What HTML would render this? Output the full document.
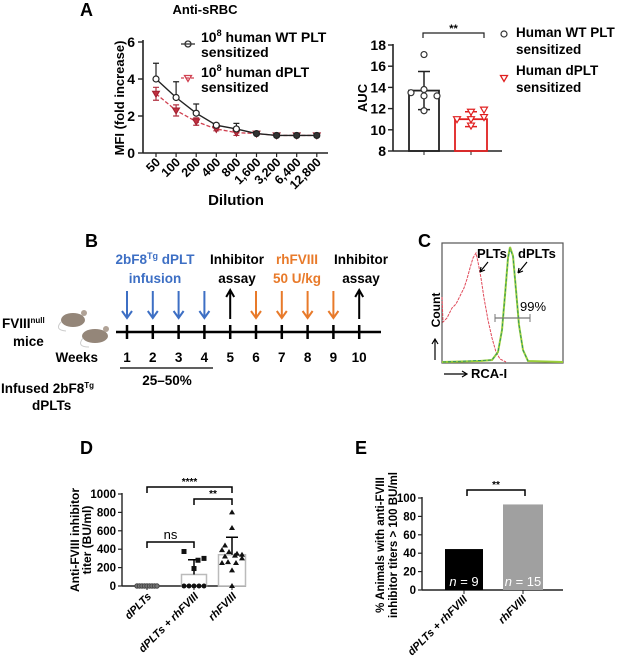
<!DOCTYPE html>
<html><head><meta charset="utf-8">
<style>
html,body{margin:0;padding:0;background:#fff;overflow:hidden;}
svg{display:block;font-family:"Liberation Sans",Arial,sans-serif;font-weight:bold;}
</style></head>
<body>
<svg id="fig" width="627" height="660" viewBox="0 0 627 660" xmlns="http://www.w3.org/2000/svg">
<!-- Panel A -->
<g id="panelA">
<text x="80" y="16" font-size="18">A</text>
<text x="205" y="14" font-size="13" text-anchor="middle">Anti-sRBC</text>
<text transform="translate(124,98) rotate(-90)" font-size="13" text-anchor="middle">MFI (fold increase)</text>
<text x="236" y="205" font-size="15" text-anchor="middle">Dilution</text>
<g>
<line x1="181" y1="44" x2="195" y2="44" stroke="#333" stroke-width="1.3"/>
<circle cx="188" cy="44" r="3" fill="none" stroke="#333" stroke-width="1.3"/>
<text x="201" y="42" font-size="14">10<tspan font-size="9" dy="-6">8</tspan><tspan dy="6"> human WT PLT</tspan></text>
<text x="201" y="57" font-size="14">sensitized</text>
<line x1="181" y1="78" x2="195" y2="78" stroke="#d04050" stroke-width="1.3" stroke-dasharray="3,2"/>
<path d="M184.5,75.5 L191.5,75.5 L188,81.5 Z" fill="none" stroke="#d04050" stroke-width="1.3"/>
<text x="201" y="77" font-size="14">10<tspan font-size="9" dy="-6">8</tspan><tspan dy="6"> human dPLT</tspan></text>
<text x="201" y="92" font-size="14">sensitized</text>
</g>
<g id="aAxes"></g><g id="aMarks"></g>
</g>
<!-- AUC -->
<g id="panelAUC">
<text transform="translate(367,98) rotate(-90)" font-size="13" text-anchor="middle">AUC</text>
<g id="aucAxes"></g><g id="aucMarks"></g>
<g>
<circle cx="504" cy="34" r="3" fill="none" stroke="#333" stroke-width="1.2"/>
<text x="516" y="37" font-size="13.5">Human WT PLT</text>
<text x="516" y="54" font-size="13.5">sensitized</text>
<path d="M500.5,75.5 L507.5,75.5 L504,81.5 Z" fill="none" stroke="#e02020" stroke-width="1.3"/>
<text x="516" y="75" font-size="13.5">Human dPLT</text>
<text x="516" y="92" font-size="13.5">sensitized</text>
</g>
</g>
<!-- Panel B -->
<g id="panelB">
<text x="85" y="247" font-size="18">B</text>
<g font-size="13.5" text-anchor="middle">
<text x="155" y="264" fill="#3d6fc4">2bF8<tspan font-size="9" dy="-5">Tg</tspan><tspan dy="5"> dPLT</tspan></text>
<text x="155" y="283" fill="#3d6fc4">infusion</text>
<text x="237" y="264">Inhibitor</text>
<text x="237" y="283">assay</text>
<text x="297" y="264" fill="#e87a2a">rhFVIII</text>
<text x="297" y="283" fill="#e87a2a">50 U/kg</text>
<text x="361" y="264">Inhibitor</text>
<text x="361" y="283">assay</text>
</g>
<line x1="116" y1="332" x2="381" y2="332" stroke="#000" stroke-width="2.5"/>
<g id="bMarks"></g>
<text x="98" y="362" font-size="13.5" text-anchor="end">Weeks</text>
<line x1="120" y1="368" x2="213" y2="368" stroke="#000" stroke-width="1.3"/>
<text x="167" y="385" font-size="13.5" text-anchor="middle">25–50%</text>
<text x="2" y="328" font-size="13.5">FVIII<tspan font-size="8" dy="-5">null</tspan></text>
<text x="13" y="346" font-size="13.5">mice</text>
<text x="1" y="393" font-size="13.5">Infused 2bF8<tspan font-size="8" dy="-5">Tg</tspan></text>
<text x="32" y="410" font-size="13.5">dPLTs</text>
<g>
<ellipse cx="73" cy="320" rx="12" ry="7" fill="#948679"/><circle cx="84" cy="313" r="3" fill="#b0a296"/><path d="M61,322 Q54,330 66,331" stroke="#ccc" fill="none"/>
</g>
<g>
<ellipse cx="95" cy="336" rx="13" ry="7" fill="#948679"/><circle cx="106" cy="329" r="3" fill="#b0a296"/><path d="M83,338 Q76,347 89,347" stroke="#ccc" fill="none"/>
</g>
</g>
<!-- Panel C -->
<g id="panelC">
<text x="418" y="247" font-size="18">C</text>
<rect x="442" y="243" width="121" height="120" fill="none" stroke="#555" stroke-width="1.2"/>
<path d="M442,297 L443,322 L447,318 L452,308 L456,304 L460,296 L464,288 L467,279 L470,268 L473,258 L476,253 L478,262 L481,278 L484,298 L488,320 L492,338 L496,352 L500,359 L506,362" fill="none" stroke="#e04a5a" stroke-width="1" stroke-dasharray="3,1"/>
<path d="M442,362 L480,361 L492,360 L498,352 L502,330 L505,295 L508,258 L510,247 L513,256 L516,290 L519,325 L523,350 L528,361 L563,362" fill="none" stroke="#9bcf3a" stroke-width="2"/>
<path d="M443,362 L492,360 L498,352 L502,330 L505,295 L508,258 L510,249 L513,256 L516,290 L519,325 L523,350 L528,361" fill="none" stroke="#1a8a6a" stroke-width="0.8" stroke-dasharray="3,2"/>
<line x1="495" y1="318" x2="530" y2="318" stroke="#777" stroke-width="1.2"/>
<line x1="495" y1="314" x2="495" y2="322" stroke="#777"/><line x1="530" y1="314" x2="530" y2="322" stroke="#777"/>
<text x="520" y="311" font-size="13" font-weight="normal">99%</text>
<text x="477" y="258" font-size="13">PLTs</text>
<text x="518" y="258" font-size="13">dPLTs</text>
<path d="M488,262 L480,272 M480,272 l1,-5 M480,272 l5,-2" stroke="#000" stroke-width="1.2" fill="none"/>
<path d="M527,262 L518,273 M518,273 l1,-5 M518,273 l5,-2" stroke="#000" stroke-width="1.2" fill="none"/>
<text transform="translate(440,310) rotate(-90)" font-size="12" text-anchor="middle">Count</text>
<path d="M435,360 L435,340 M432,344 L435,339 L438,344" stroke="#000" fill="none" stroke-width="1.2"/>
<path d="M444,374 L466,374 M462,371 L467,374 L462,377" stroke="#000" fill="none" stroke-width="1.2"/>
<text x="471" y="378" font-size="13">RCA-I</text>
</g>
<!-- Panel D -->
<g id="panelD">
<text x="80" y="454" font-size="18">D</text>
<text transform="translate(79,540) rotate(-90)" font-size="12" text-anchor="middle">Anti-FVIII inhibitor</text>
<text transform="translate(91,540) rotate(-90)" font-size="12" text-anchor="middle">titer (BU/ml)</text>
<g id="dAxes"></g><g id="dMarks"></g>
</g>
<!-- Panel E -->
<g id="panelE">
<text x="355" y="454" font-size="18">E</text>
<text transform="translate(384,545) rotate(-90)" font-size="11.5" text-anchor="middle">% Animals with anti-FVIII</text>
<text transform="translate(397,545) rotate(-90)" font-size="11.5" text-anchor="middle">inhibitor titers &gt; 100 BU/ml</text>
<g id="eAxes"></g><g id="eMarks"></g>
</g>
</svg>
<script>
const NS="http://www.w3.org/2000/svg";
function mk(parent,tag,attrs,txt){const e=document.createElementNS(NS,tag);for(const k in attrs)e.setAttribute(k,attrs[k]);if(txt!==undefined)e.textContent=txt;parent.appendChild(e);return e;}

// ---------- Panel A data ----------
const aDilutions=["50","100","200","400","800","1,600","3,200","6,400","12,800"];
const aWT=[4.0,3.0,2.15,1.5,1.3,1.05,0.95,0.95,0.95];
const aWTerr=[0.85,0.85,0.5,0.1,0.3,0.05,0.05,0.05,0.05];
const aDPLT=[3.2,2.3,1.7,1.3,1.1,1.05,0.95,0.95,0.95];
const aDPLTerr=[0.35,0.3,0.2,0.1,0.15,0.05,0.05,0.05,0.05];
const aYTicks=[0,2,4,6];
// ---------- AUC data ----------
const aucGroups=["WT","dPLT"];
const aucMeans=[13.7,11.0];
const aucSD=[1.8,0.7];
const aucWTpts=[17.1,13.5,13.8,13.2,13.2,11.8];
const aucDPLTpts=[11.0,11.7,11.0,10.4,11.2,11.9];
const aucYTicks=[8,10,12,14,16,18];
// ---------- Panel B data ----------
const bWeeks=[1,2,3,4,5,6,7,8,9,10];
const bEvents=["infusion","infusion","infusion","infusion","assay","rh","rh","rh","rh","assay"];
// ---------- Panel D data ----------
const dCats=["dPLTs","dPLTs + rhFVIII","rhFVIII"];
const dMeans=[0,125,340];
const dSD=[0,160,190];
const dPtsDPLT=[0,0,0,0,0,0,0,0,0];
const dPtsCombo=[375,300,280,190,0,0,0,0,0];
const dPtsRh=[800,630,440,390,370,350,340,320,330,300,260,250,250,170,0];
const dYTicks=[0,200,400,600,800,1000];
// ---------- Panel E data ----------
const eCats=["dPLTs + rhFVIII","rhFVIII"];
const eVals=[44.5,93];
const eN=["9","15"];
const eYTicks=[0,20,40,60,80,100];

// ===== Panel A =====
(function(){
 const ax=document.getElementById('aAxes'),mg=document.getElementById('aMarks');
 const y=v=>153-v*(153-42)/6, x=i=>156+i*20.1;
 let l=mk(ax,'line',{x1:143,y1:40,x2:143,y2:153,stroke:'#222','stroke-width':1.6});
 
 l=mk(ax,'line',{x1:143,y1:153,x2:328,y2:153,stroke:'#222','stroke-width':1.6});
 
 aYTicks.forEach(t=>{mk(ax,'line',{x1:138,y1:y(t),x2:143,y2:y(t),stroke:'#222','stroke-width':1.4});
  const tx=mk(ax,'text',{x:135,y:y(t)+5,'font-size':14,'text-anchor':'end'},t);
  });
 aDilutions.forEach((d,i)=>{mk(ax,'line',{x1:x(i),y1:153,x2:x(i),y2:157,stroke:'#222','stroke-width':1.2});
  const tx=mk(ax,'text',{transform:`translate(${x(i)+5},163) rotate(-45)`,'font-size':12.5,'text-anchor':'end'},d);
  });
 let pts=aDPLT.map((v,i)=>x(i)+','+y(v)).join(' ');
 let pl=mk(mg,'polyline',{points:pts,fill:'none',stroke:'#d04050','stroke-width':1.3,'stroke-dasharray':'4,2'});
 
 aDPLT.forEach((v,i)=>{const e=aDPLTerr[i];
  mk(mg,'path',{d:`M${x(i)},${y(v+e)}V${y(v-e)}M${x(i)-3},${y(v+e)}h6M${x(i)-3},${y(v-e)}h6`,stroke:'#b03040','stroke-width':1.2,fill:'none'});
  const p=mk(mg,'path',{d:`M${x(i)-3.5},${y(v)-2.5}h7l-3.5,6z`,fill:'#c03040',stroke:'#a02030'});
  });
 pts=aWT.map((v,i)=>x(i)+','+y(v)).join(' ');
 pl=mk(mg,'polyline',{points:pts,fill:'none',stroke:'#222','stroke-width':1.4});
 
 aWT.forEach((v,i)=>{const e=aWTerr[i];
  mk(mg,'path',{d:`M${x(i)},${y(v+e)}V${y(v)}M${x(i)-3},${y(v+e)}h6`,stroke:'#222','stroke-width':1.2,fill:'none'});
  const c=mk(mg,'circle',{cx:x(i),cy:y(v),r:3,fill:i>=5?'#333':'#fff',stroke:'#222','stroke-width':1.2});
  });
})();

// ===== AUC =====
(function(){
 const ax=document.getElementById('aucAxes'),mg=document.getElementById('aucMarks');
 const y=v=>151-(v-8)*(151-45)/10;
 const cx=[424,471], hw=[15,16];
 let l=mk(ax,'line',{x1:393,y1:44,x2:393,y2:151,stroke:'#222','stroke-width':1.6});
 
 l=mk(ax,'line',{x1:393,y1:151,x2:502,y2:151,stroke:'#222','stroke-width':1.6});
 
 aucYTicks.forEach(t=>{mk(ax,'line',{x1:388,y1:y(t),x2:393,y2:y(t),stroke:'#222','stroke-width':1.4});
  const tx=mk(ax,'text',{x:386,y:y(t)+5,'font-size':14,'text-anchor':'end'},t);
  });
 const cols=['#222','#e02020'];
 aucGroups.forEach((g,i)=>{
  mk(ax,'line',{x1:cx[i],y1:151,x2:cx[i],y2:155,stroke:'#222'});
  const r=mk(mg,'rect',{x:cx[i]-hw[i],y:y(aucMeans[i]),width:hw[i]*2,height:151-y(aucMeans[i]),fill:'none',stroke:cols[i],'stroke-width':1.8});
  
  const m=aucMeans[i],s=aucSD[i];
  mk(mg,'path',{d:`M${cx[i]},${y(m+s)}V${y(m-s)}M${cx[i]-6},${y(m+s)}h12M${cx[i]-6},${y(m-s)}h12`,stroke:cols[i],'stroke-width':1.5,fill:'none'});
 });
 const offs=[0,-13,0,0,13,0];
 aucWTpts.forEach((v,j)=>{const c=mk(mg,'circle',{cx:cx[0]+offs[j],cy:y(v),r:3,fill:'#fff',stroke:'#333','stroke-width':1.2});
  });
 const offs2=[-14,0,0,0,13,13];
 aucDPLTpts.forEach((v,j)=>{const px=cx[1]+offs2[j],py=y(v);
  const p=mk(mg,'path',{d:`M${px-3.5},${py-2.5}h7l-3.5,6z`,fill:'#fff',stroke:'#e02020','stroke-width':1.2});
  });
 const b=mk(mg,'path',{d:`M${cx[0]-1},38V33H${cx[1]+13}V38`,stroke:'#222','stroke-width':1.2,fill:'none'});
 
 const t=mk(mg,'text',{x:(cx[0]+cx[1]+12)/2,y:32,'font-size':11,'text-anchor':'middle'},'**');
 
})();

// ===== Panel B =====
(function(){
 const mg=document.getElementById('bMarks');
 const x=w=>127+(w-1)*25.8;
 const col={infusion:'#3d6fc4',assay:'#000',rh:'#e87a2a'};
 bWeeks.forEach((w,i)=>{
  mk(mg,'line',{x1:x(w),y1:325,x2:x(w),y2:339,stroke:'#000','stroke-width':2.5});
  const n=mk(mg,'text',{x:x(w),y:362,'font-size':13.5,'text-anchor':'middle'},w);
  
  const ev=bEvents[i],c=col[ev];
  let d= ev==='assay' ? `M${x(w)},319V291M${x(w)-4},297L${x(w)},290L${x(w)+4},297` : `M${x(w)},291V318M${x(w)-5},311L${x(w)},318L${x(w)+5},311`;
  const a=mk(mg,'path',{d:d,stroke:c,'stroke-width':2,fill:'none'});
  
 });
})();

// ===== Panel D =====
(function(){
 const ax=document.getElementById('dAxes'),mg=document.getElementById('dMarks');
 const y=v=>586-v*(586-494)/1000;
 const cx=[147,194,232],hw=[0,12.5,13.5];
 let l=mk(ax,'line',{x1:122,y1:493,x2:122,y2:586,stroke:'#222','stroke-width':1.4});
 
 l=mk(ax,'line',{x1:122,y1:586,x2:246,y2:586,stroke:'#222','stroke-width':1.4});
 
 dYTicks.forEach(t=>{mk(ax,'line',{x1:118,y1:y(t),x2:122,y2:y(t),stroke:'#222','stroke-width':1.2});
  const tx=mk(ax,'text',{x:116,y:y(t)+4,'font-size':11.5,'text-anchor':'end'},t);
  });
 dCats.forEach((c,i)=>{mk(ax,'line',{x1:cx[i],y1:586,x2:cx[i],y2:590,stroke:'#222'});
  const tx=mk(ax,'text',{transform:`translate(${cx[i]+5},597) rotate(-45)`,'font-size':11,'font-style':'italic','text-anchor':'end'},c);
  
  if(hw[i]>0){const r=mk(mg,'rect',{x:cx[i]-hw[i],y:y(dMeans[i]),width:hw[i]*2,height:586-y(dMeans[i]),fill:'#fff',stroke:'#bbb','stroke-width':1.5});
   
   mk(mg,'path',{d:`M${cx[i]},${y(dMeans[i])}V${y(dMeans[i]+dSD[i])}M${cx[i]-6},${y(dMeans[i]+dSD[i])}h12`,stroke:'#000','stroke-width':1.5,fill:'none'});}
 });
 dPtsDPLT.forEach((v,j)=>{const c=mk(mg,'circle',{cx:cx[0]-10+j*2.5,cy:y(v),r:2.2,fill:'#777',stroke:'#444'});
  });
 const comboX=[-10,10,4,0,-10,-5,0,5,10];
 dPtsCombo.forEach((v,j)=>{const px=cx[1]+comboX[j],py=y(v);
  const e= j<4 ? mk(mg,'rect',{x:px-2.5,y:py-2.5,width:5,height:5,fill:'#111'}) : mk(mg,'circle',{cx:px,cy:py,r:2.5,fill:'#111'});
  });
 const rhX=[0,0,-7,-10,-3,5,10,-7,3,10,-4,4,-10,0,0];
 dPtsRh.forEach((v,j)=>{const px=cx[2]+rhX[j],py=y(v);
  const p=mk(mg,'path',{d:`M${px},${py-3}l3,5h-6z`,fill:'#111'});
  });
 const br=[[0,2,487,'****'],[1,2,499,'**'],[0,1,542,'ns']];
 br.forEach(b=>{const p=mk(mg,'path',{d:`M${cx[b[0]]},${b[2]+6}V${b[2]}H${cx[b[1]]}V${b[2]+6}`,stroke:'#000','stroke-width':1.5,fill:'none'});
  
  const t=mk(mg,'text',{x:(cx[b[0]]+cx[b[1]])/2,y:b[2]-(b[3]==='ns'?3:2),'font-size':b[3]==='ns'?13:10,'font-weight':b[3]==='ns'?'normal':'bold','text-anchor':'middle'},b[3]);
  });
})();

// ===== Panel E =====
(function(){
 const ax=document.getElementById('eAxes'),mg=document.getElementById('eMarks');
 const y=v=>590-v*(590-498)/100;
 const cx=[464,523],hw=[19,20];
 let l=mk(ax,'line',{x1:422,y1:497,x2:422,y2:590,stroke:'#222','stroke-width':1.4});
 
 l=mk(ax,'line',{x1:422,y1:590,x2:563,y2:590,stroke:'#222','stroke-width':1.4});
 
 eYTicks.forEach(t=>{mk(ax,'line',{x1:418,y1:y(t),x2:422,y2:y(t),stroke:'#222','stroke-width':1.2});
  const tx=mk(ax,'text',{x:416,y:y(t)+4,'font-size':11.5,'text-anchor':'end'},t);
  });
 const cols=['#000','#a0a0a0'];
 eCats.forEach((c,i)=>{
  mk(ax,'line',{x1:cx[i],y1:590,x2:cx[i],y2:594,stroke:'#222'});
  const tx=mk(ax,'text',{transform:`translate(${cx[i]+4},600) rotate(-45)`,'font-size':11,'font-style':'italic','text-anchor':'end'},c);
  
  const r=mk(mg,'rect',{x:cx[i]-hw[i],y:y(eVals[i]),width:hw[i]*2,height:590-y(eVals[i]),fill:cols[i]});
  
  const n=mk(mg,'text',{x:cx[i],y:586,'font-size':13,'font-weight':'normal',fill:'#fff','text-anchor':'middle'});
  
  mk(n,'tspan',{'font-style':'italic'},'n');mk(n,'tspan',{},' = '+eN[i]);
 });
 const b=mk(mg,'path',{d:`M467,496V490H525V496`,stroke:'#000','stroke-width':1.5,fill:'none'});
 
 const t=mk(mg,'text',{x:496,y:488,'font-size':10,'text-anchor':'middle'},'**');
 
})();
</script>
</body></html>
